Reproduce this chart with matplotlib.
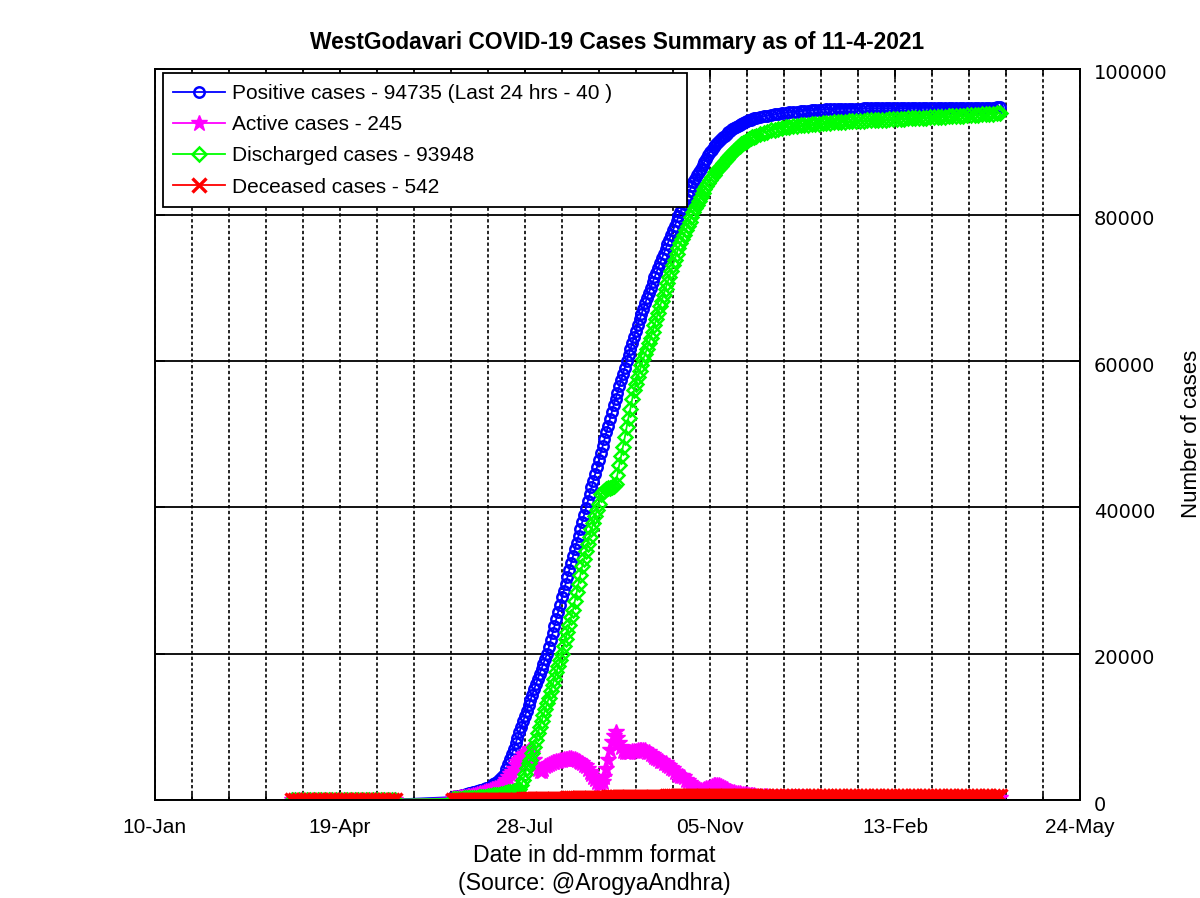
import numpy as np
import pandas as pd
import matplotlib
matplotlib.use("Agg")
import matplotlib.pyplot as plt
import matplotlib.dates as mdates
from matplotlib.ticker import FixedLocator
from matplotlib.transforms import ScaledTranslation

plt.rcParams['font.family'] = ['Liberation Sans', 'DejaVu Sans']

# dates: every 2 days (24-Mar .. 19-May), daily (19-Jun .. 30-Nov), every 2 days (02-Dec .. 11-Apr)
dates_early = pd.date_range('2020-03-24', '2020-05-19', freq='2D')
dates_daily = pd.date_range('2020-06-19', '2020-11-30', freq='D')
dates_late = pd.date_range('2020-12-02', '2021-04-11', freq='2D')

# ---- positive cases ----
pos_early = [0, 0, 0, 0, 2, 5, 14, 15, 21, 21, 22, 31, 35, 39, 39, 46, 51, 56, 56, 59,
             62, 68, 68, 68, 68, 68, 69, 70, 72]
pos_daily = [
    400, 450, 500, 550, 600, 660, 720, 780, 840, 900,
    970, 1040, 1110, 1180, 1250, 1340, 1430, 1520, 1610, 1700,
    1800, 1970, 2150, 2320, 2500, 2740, 2990, 3240, 3500, 4200,
    4900, 5600, 6300, 7040, 7780, 8520, 9260, 10000, 10740, 11480,
    12220, 12960, 13700, 14420, 15140, 15860, 16580, 17300, 17970, 18640,
    19320, 20000, 20960, 21920, 22880, 23840, 24800, 25760, 26730, 27700,
    28640, 29580, 30520, 31460, 32400, 33340, 34280, 35200, 36140, 37080,
    38030, 38970, 39910, 40860, 41800, 42740, 43690, 44630, 45570, 46510,
    47460, 48400, 49330, 50270, 51200, 52130, 53070, 54000, 54860, 55710,
    56570, 57430, 58290, 59140, 60000, 60830, 61670, 62500, 63330, 64170,
    65000, 65730, 66450, 67180, 67900, 68630, 69350, 70080, 70800, 71450,
    72100, 72750, 73400, 74050, 74700, 75350, 76000, 76630, 77270, 77900,
    78530, 79170, 79800, 80390, 80980, 81560, 82150, 82740, 83330, 83910,
    84500, 84960, 85410, 85870, 86320, 86780, 87230, 87690, 88140, 88600,
    88950, 89280, 89590, 89880, 90150, 90400, 90630, 90850, 91070, 91300,
    91500, 91690, 91870, 92030, 92180, 92320, 92460, 92590, 92710, 92830,
    92940, 93040, 93130, 93220, 93300]
pos_late = [
    93400, 93490, 93580, 93660, 93740, 93820, 93900, 93970, 94030, 94090,
    94140, 94190, 94240, 94280, 94320, 94360, 94390, 94420, 94440, 94460,
    94480, 94495, 94510, 94520, 94530, 94540, 94548, 94556, 94563, 94570,
    94575, 94580, 94585, 94590, 94594, 94598, 94602, 94606, 94610, 94614,
    94618, 94622, 94626, 94630, 94634, 94638, 94641, 94644, 94647, 94650,
    94653, 94656, 94659, 94662, 94665, 94668, 94671, 94674, 94677, 94680,
    94683, 94687, 94691, 94694, 94695, 94735]

# ---- active cases ----
act_early = [0, 0, 0, 0, 2, 5, 14, 15, 21, 21, 22, 30, 34, 37, 35, 38, 40, 36, 30, 28,
             25, 24, 20, 16, 12, 10, 8, 9, 8]
act_daily = [
    250, 270, 290, 320, 350, 380, 410, 450, 500, 550,
    600, 660, 720, 790, 860, 940, 1020, 1110, 1200, 1300,
    1380, 1460, 1540, 1620, 1700, 1800, 2000, 2200, 2450, 2700,
    3100, 3500, 3900, 4300, 4800, 5200, 5500, 5800, 6100, 6300,
    6600, 6800, 7000, 6300, 5500, 4800, 4200, 4000, 4000, 4300,
    4600, 4800, 4950, 5100, 5200, 5250, 5300, 5400, 5450, 5500,
    5550, 5600, 5650, 5700, 5700, 5650, 5600, 5500, 5400, 5200,
    5000, 4800, 4600, 4300, 3900, 3500, 3200, 2900, 2500, 2200,
    2000, 2500, 3200, 4300, 5500, 6800, 8000, 8800, 9300, 8500,
    7800, 7200, 6700, 6600, 6500, 6500, 6600, 6700, 6700, 6700,
    6800, 6800, 6900, 6900, 6800, 6600, 6500, 6300, 6100, 5900,
    5700, 5600, 5400, 5300, 5100, 5000, 4800, 4600, 4400, 4200,
    3900, 3600, 3400, 3300, 3300, 3100, 2800, 2600, 2300, 2100,
    1900, 1700, 1600, 1500, 1400, 1400, 1500, 1600, 1700, 1800,
    1900, 2000, 2000, 2050, 2000, 1900, 1750, 1600, 1450, 1300,
    1200, 1100, 1050, 1000, 950, 900, 850, 800, 780, 760,
    730, 700, 670, 640, 610]
act_late = [
    580, 540, 500, 470, 450, 430, 410, 400, 390, 380,
    370, 360, 350, 340, 330, 320, 310, 300, 290, 280,
    270, 260, 250, 240, 230, 220, 210, 200, 190, 180,
    175, 170, 165, 160, 155, 150, 145, 140, 135, 130,
    125, 120, 118, 115, 112, 110, 110, 112, 115, 118,
    120, 125, 130, 135, 140, 145, 150, 158, 166, 175,
    185, 195, 205, 218, 230, 245]

# ---- discharged cases ----
dis_early = [0, 0, 0, 0, 0, 0, 0, 0, 0, 0, 0, 1, 1, 2, 4, 8, 11, 20, 26, 31,
             37, 44, 48, 52, 56, 58, 61, 61, 64]
dis_daily = [
    150, 160, 170, 180, 190, 200, 210, 220, 235, 250,
    270, 290, 310, 330, 360, 390, 420, 450, 475, 500,
    540, 580, 620, 660, 700, 750, 800, 860, 930, 1000,
    1050, 1100, 1150, 1200, 1250, 1300, 1500, 2000, 2700, 3500,
    4400, 5000, 5500, 6400, 7300, 8200, 9100, 10000, 10800, 11600,
    12400, 13200, 14000, 14900, 15750, 16600, 17450, 18300, 19150, 20000,
    21000, 22000, 23000, 24000, 25000, 26000, 27200, 28400, 29600, 30800,
    32000, 33000, 34000, 35000, 36000, 37000, 37900, 38800, 39700, 40500,
    41800, 42100, 42300, 42500, 42600, 42700, 42800, 42900, 43200, 44500,
    45800, 47000, 48300, 49600, 51000, 52300, 53500, 54800, 56000, 56900,
    57800, 58600, 59500, 60300, 61000, 61700, 62500, 63200, 64000, 64900,
    65800, 66600, 67500, 68300, 69100, 69900, 70700, 71500, 72300, 73100,
    73900, 74700, 75500, 76100, 76700, 77300, 77900, 78500, 79100, 79750,
    80400, 80900, 81400, 81900, 82450, 82950, 83500, 84000, 84400, 84800,
    85150, 85500, 85850, 86150, 86450, 86750, 87050, 87350, 87650, 87950,
    88250, 88520, 88780, 89020, 89250, 89460, 89660, 89850, 90020, 90180,
    90330, 90470, 90600, 90720, 90830]
dis_late = [
    91040, 91230, 91400, 91550, 91680, 91800, 91900, 91990, 92070, 92140,
    92200, 92260, 92310, 92360, 92410, 92450, 92490, 92530, 92570, 92610,
    92650, 92690, 92720, 92750, 92780, 92810, 92840, 92870, 92890, 92920,
    92950, 92980, 93000, 93030, 93050, 93080, 93100, 93130, 93150, 93170,
    93200, 93220, 93240, 93270, 93290, 93310, 93340, 93360, 93390, 93410,
    93440, 93470, 93500, 93530, 93560, 93590, 93620, 93650, 93680, 93710,
    93740, 93780, 93820, 93860, 93900, 93948]

# ---- deceased cases ----
dec_early = [0, 0, 0, 0, 0, 0, 0, 0, 0, 0, 0, 0, 0, 0, 0, 0, 0, 0, 0, 0,
             0, 0, 0, 0, 0, 0, 0, 0, 0]
dec_daily = [
    2, 2, 2, 2, 3, 3, 3, 4, 4, 4,
    5, 5, 6, 6, 7, 8, 9, 10, 11, 12,
    14, 16, 18, 20, 22, 25, 28, 31, 34, 37,
    40, 44, 48, 52, 56, 60, 65, 70, 75, 80,
    85, 90, 95, 100, 106, 112, 118, 124, 130, 136,
    142, 148, 154, 160, 166, 172, 178, 184, 190, 196,
    202, 208, 214, 220, 226, 232, 238, 244, 250, 256,
    262, 268, 274, 280, 286, 292, 298, 304, 310, 316,
    322, 328, 334, 340, 346, 352, 358, 364, 370, 376,
    382, 387, 392, 397, 402, 407, 412, 417, 422, 427,
    431, 435, 439, 443, 447, 451, 455, 458, 461, 464,
    467, 470, 473, 476, 479, 482, 485, 487, 489, 491,
    493, 495, 497, 499, 501, 503, 505, 506, 507, 508,
    509, 510, 511, 512, 513, 514, 515, 516, 517, 518,
    519, 520, 520, 521, 521, 522, 522, 523, 523, 524,
    524, 525, 525, 526, 526, 527, 527, 528, 528, 529,
    529, 530, 530, 530, 531]
dec_late = [
    531, 532, 532, 533, 533, 534, 534, 534, 535, 535,
    535, 536, 536, 536, 537, 537, 537, 537, 538, 538,
    538, 538, 538, 539, 539, 539, 539, 539, 539, 540,
    540, 540, 540, 540, 540, 540, 540, 541, 541, 541,
    541, 541, 541, 541, 541, 541, 541, 541, 541, 541,
    541, 541, 541, 541, 541, 541, 541, 542, 542, 542,
    542, 542, 542, 542, 542, 542]

labels = ['Positive cases - 94735 (Last 24 hrs - 40 )', 'Active cases - 245',
          'Discharged cases - 93948', 'Deceased cases - 542']

dates = dates_early.append(dates_daily).append(dates_late)
positive = pos_early + pos_daily + pos_late
active = act_early + act_daily + act_late
discharged = dis_early + dis_daily + dis_late
deceased = dec_early + dec_daily + dec_late

fig = plt.figure(figsize=(12, 8.98), dpi=100)
ax = fig.add_axes([0.129, 0.1091, 0.771, 0.8144])

ax.plot(dates, positive, color='#0000ff', marker='o', ms=7.5, mfc='none', mew=1.8, lw=1.3, label=labels[0])
ax.plot(dates, active, color='#ff00ff', marker='*', ms=12, mew=1.0, lw=1.3, label=labels[1])
ax.plot(dates, discharged, color='#00ff00', marker='D', ms=7.5, mfc='none', mew=1.8, lw=1.3, label=labels[2])
ax.plot(dates, deceased, color='#ff0000', marker='x', ms=9.5, mew=2.4, lw=1.3, label=labels[3])

xmin = pd.Timestamp('2020-01-10')
xmax = pd.Timestamp('2021-05-24')
ax.set_xlim(xmin, xmax)
ax.set_ylim(0, 100000)

major = pd.date_range(xmin, xmax, freq='100D')
minor = pd.date_range(xmin, xmax, freq='20D')
ax.xaxis.set_major_locator(FixedLocator(mdates.date2num(major)))
ax.xaxis.set_minor_locator(FixedLocator(mdates.date2num(minor)))
ax.xaxis.remove_overlapping_locs = False
ax.xaxis.set_major_formatter(mdates.DateFormatter('%d-%b'))
ax.set_yticks([0, 20000, 40000, 60000, 80000, 100000])

ax.yaxis.tick_right()
ax.yaxis.set_label_position('right')
ax.tick_params(axis='both', which='both', direction='in', top=True, bottom=True, left=True, right=True,
               width=1.2, colors='black')
ax.tick_params(axis='both', which='major', length=7)
ax.tick_params(axis='x', which='minor', length=4)
ax.tick_params(axis='x', which='major', pad=13, labelsize=15)
ax.tick_params(axis='y', which='major', pad=10, labelsize=14)
shift = ScaledTranslation(0, -3 / 100, fig.dpi_scale_trans)
for t in ax.get_yticklabels():
    t.set_fontfamily('DejaVu Sans')
    t.set_transform(t.get_transform() + shift)

ax.grid(which='minor', axis='x', color='black', linestyle=(0, (2, 1.5)), lw=1.2)
ax.grid(which='major', axis='y', color='black', linestyle='-', lw=1.3)
ax.set_axisbelow(True)
for s in ax.spines.values():
    s.set_linewidth(1.4)

ax.set_title('WestGodavari COVID-19 Cases Summary as of 11-4-2021', fontsize=16.4, fontweight='bold', pad=14)
ax.set_xlabel('Date in dd-mmm format\n(Source: @ArogyaAndhra)', fontsize=16.7, linespacing=1.3)
ax.xaxis.set_label_coords(0.4746, -0.06)
ax.set_ylabel('Number of cases', fontsize=16, labelpad=10)

leg = ax.legend(loc='upper left', bbox_to_anchor=(0.0086, 0.5, 0.5665, 0.4935), mode='expand',
                fontsize=15, frameon=True, fancybox=False, edgecolor='black', framealpha=1,
                handlelength=2.5, borderpad=0.5, labelspacing=0.59, handletextpad=0.3,
                borderaxespad=0)
leg.get_frame().set_linewidth(1.3)

fig.savefig('out.png', dpi=100)
